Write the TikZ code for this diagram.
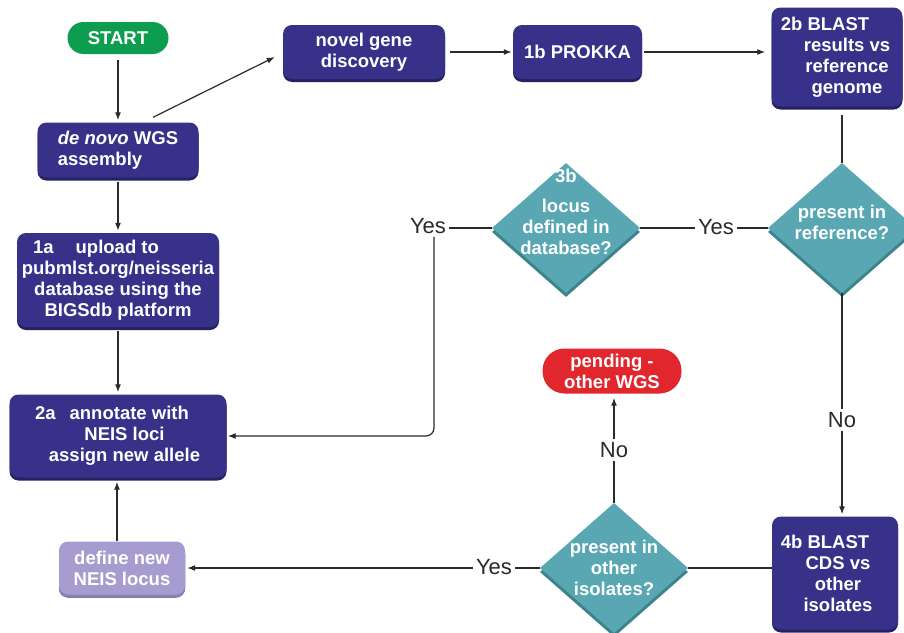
\documentclass[tikz,border=0pt]{standalone}
\usepackage{fontspec}
\setmainfont{Liberation Sans}
\usetikzlibrary{shapes.geometric,shadows,arrows.meta}
\definecolor{nblue}{HTML}{37318A}
\definecolor{nbluesh}{HTML}{262163}
\definecolor{teal1}{HTML}{59A7B2}
\definecolor{tealsh}{HTML}{3C838D}
\definecolor{green1}{HTML}{0C9E4E}
\definecolor{red1}{HTML}{E2262E}
\definecolor{lav}{HTML}{A79CCF}
\definecolor{lavsh}{HTML}{8B80B6}
\definecolor{linec}{HTML}{2A2A2A}
\newcommand\bxfont{\fontsize{18.5}{21}\selectfont\bfseries}
\newcommand\lblfont{\fontsize{22}{24}\selectfont}
\begin{document}
\begin{tikzpicture}[x=1pt,y=-1pt,
  box/.style={rounded corners=9pt, fill=nblue, text=white, font=\bxfont, inner sep=2pt, align=center,
    drop shadow={shadow xshift=0pt, shadow yshift=-3pt, fill=nbluesh, opacity=1}},
  lavbox/.style={box, fill=lav, drop shadow={shadow xshift=0pt, shadow yshift=-3pt, fill=lavsh, opacity=1}},
  pill/.style={fill=#1, text=white, font=\bxfont, inner sep=2pt, align=center},
  diam/.style={diamond, fill=teal1, inner sep=0pt, minimum width=148pt, minimum height=130pt,
    drop shadow={shadow xshift=0pt, shadow yshift=-4pt, fill=tealsh, opacity=1}},
  dtext/.style={text=white, font=\bxfont, align=center, inner sep=0pt},
  conn/.style={draw=linec, line width=1.2pt},
  arr/.style={conn, -{Latex[length=8pt,width=6pt]}},
  lbl/.style={font=\lblfont, text=linec, inner sep=3pt}
]
\clip (0,0) rectangle (904,632);
\fill[white] (0,0) rectangle (904,632);

% nodes
\node[pill=green1, rounded corners=16pt, minimum width=101pt, minimum height=32pt] (st) at (118,38) {START};
\node[box, align=left, minimum width=161pt, minimum height=55pt] (dn) at (118,150) {\textit{de novo} WGS\\assembly};
\node[box, minimum width=162pt, minimum height=54pt] (ng) at (364,52) {novel gene\\discovery};
\node[box, minimum width=129pt, minimum height=54pt] (pk) at (577.5,52) {1b PROKKA};
\node[box, minimum width=131pt, minimum height=99pt] (b2) at (837,57)
  {2b BLAST\kern24pt\\\hspace*{20pt}results vs\\\hspace*{20pt}reference\\\hspace*{20pt}genome};
\node[box, minimum width=202pt, minimum height=94pt] (a1) at (118,280)
  {1a\hspace{22pt}upload to\kern44pt\\pubmlst.org/neisseria\\database using the\\BIGSdb platform};
\node[box, minimum width=217pt, minimum height=83pt] (a2) at (118,436)
  {2a\hspace{14pt}annotate with\kern12pt\\\hspace*{13pt}NEIS loci\\\hspace*{13pt}assign new allele};
\node[lavbox, minimum width=126pt, minimum height=53pt] (df) at (122,568) {define new\\NEIS locus};
\node[pill=red1, rounded corners=22pt, minimum width=139pt, minimum height=45pt] (pend) at (612,371) {pending -\\other WGS};
\node[box, minimum width=126pt, minimum height=113pt] (b4) at (835,573)
  {4b BLAST\kern20pt\\\hspace*{6pt}CDS vs\\\hspace*{6pt}other\\\hspace*{6pt}isolates};

\node[diam] (d3) at (566,228) {};
\node[dtext, yshift=16pt] (d3t) at (d3) {3b\\[9pt]locus\\defined in\\database?};
\node[diam] (rd) at (842,228) {};
\node[dtext, yshift=6pt] (rdt) at (rd) {present in\\reference?};
\node[diam] (od) at (614,568) {};
\node[dtext] (odt) at (od) {present in\\other\\isolates?};

% labels
\node[lbl] (yl) at (428,226) {Yes};
\node[lbl] (yr) at (716,227) {Yes};
\node[lbl] (no1) at (842,420) {No};
\node[lbl] (no2) at (614,450) {No};
\node[lbl] (yo) at (494,567) {Yes};

% connectors
\draw[arr] ([yshift=-6pt]st.south) -- ([yshift=2pt]dn.north);
\draw[arr] ([xshift=35pt,yshift=5pt]dn.north) -- ([xshift=-8pt,yshift=-5pt]ng.west);
\draw[arr] ([yshift=-4pt]dn.south) -- ([yshift=2pt]a1.north);
\draw[arr] ([yshift=-4pt]a1.south) -- ([yshift=2pt]a2.north);
\draw[arr] ([xshift=5pt]ng.east) -- ([xshift=-1pt]pk.west);
\draw[arr] ([xshift=2pt]pk.east) -- ([xshift=-6pt]pk.east -| b2.west);
\draw[conn] ([yshift=-8pt]rd.north |- b2.south) -- (rd.north);
\draw[conn] (rd.west) -- (rd.west -| yr.east);
\draw[conn] (d3.east -| yr.west) -- (d3.east);
\draw[conn] (d3.west) -- (d3.west -| yl.east);
\draw[arr, rounded corners=8pt] ([xshift=6pt]yl.south) |- ([xshift=1pt]a2.east);
\draw[conn] (rd.south) -- (no1.north);
\draw[arr] (no1.south) -- ([yshift=2pt]no1.south |- b4.north);
\draw[conn] (b4.west |- od.east) -- (od.east);
\draw[conn] (od.west) -- (od.west -| yo.east);
\draw[arr] (od.west -| yo.west) -- ([xshift=2pt]od.west -| df.east);
\draw[conn] (od.north) -- (no2.north |- no2.south);
\draw[arr] (no2.north) -- ([yshift=-4pt]no2.north |- pend.south);
\draw[arr] ([xshift=-5pt]df.north) -- ([xshift=-5pt,yshift=-4pt]df.north |- a2.south);
\end{tikzpicture}
\end{document}
